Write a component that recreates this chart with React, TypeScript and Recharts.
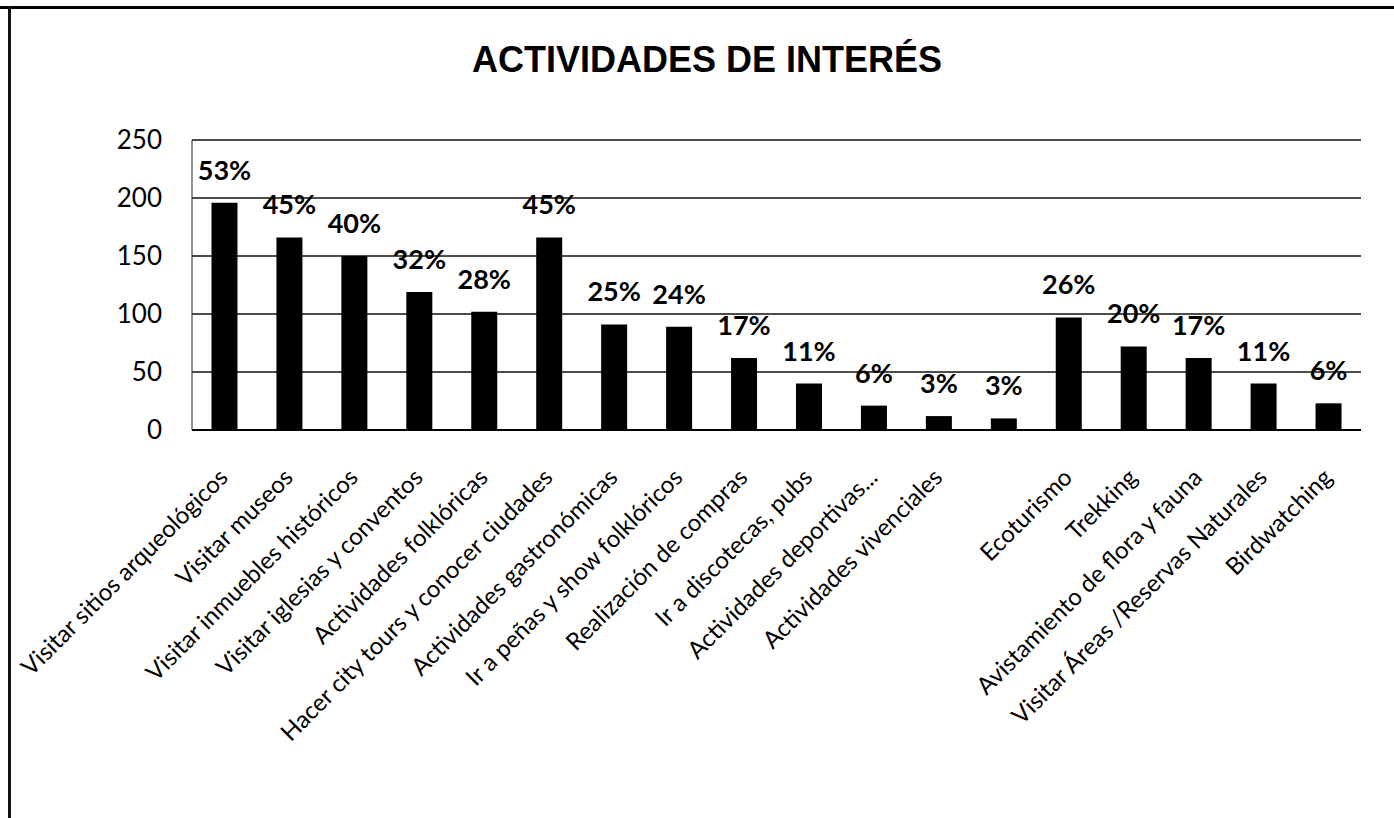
import { BarChart, Bar, XAxis, YAxis, CartesianGrid, LabelList } from 'recharts'

const CATEGORIES = [
  'Visitar sitios arqueológicos',
  'Visitar museos',
  'Visitar inmuebles históricos',
  'Visitar iglesias y conventos',
  'Actividades folklóricas',
  'Hacer city tours y conocer ciudades',
  'Actividades gastronómicas',
  'Ir a peñas y show folklóricos',
  'Realización de compras',
  'Ir a discotecas, pubs',
  'Actividades deportivas...',
  'Actividades vivenciales',
  '',
  'Ecoturismo',
  'Trekking',
  'Avistamiento de flora y fauna',
  'Visitar Áreas /Reservas Naturales',
  'Birdwatching',
]

const COUNTS = [196, 166, 150, 119, 102, 166, 91, 89, 62, 40, 21, 12, 10, 97, 72, 62, 40, 23]

const SHARES = [
  '53%', '45%', '40%', '32%', '28%', '45%', '25%', '24%', '17%',
  '11%', '6%', '3%', '3%', '26%', '20%', '17%', '11%', '6%',
]

const Y_TICKS = [0, 50, 100, 150, 200, 250]

const data = CATEGORIES.map((name, i) => ({
  key: `c${i}`,
  name,
  count: COUNTS[i],
  share: SHARES[i],
}))

const FONT = 'Lato, "Open Sans", sans-serif'

function CategoryTick(props: any) {
  const { x, y, payload } = props
  const label = CATEGORIES[payload.index] ?? ''
  return (
    <g transform={`translate(${x + 5},${y + 49})`}>
      <text
        transform="rotate(-45)"
        textAnchor="end"
        fill="#000"
        fontSize={24}
        fontFamily={FONT}
      >
        {label}
      </text>
    </g>
  )
}

function ShareLabel(props: any) {
  const { x, y, width, value } = props
  return (
    <text
      x={x + width / 2}
      y={y - 23}
      textAnchor="middle"
      fill="#000"
      fontSize={27}
      fontWeight="bold"
      fontFamily={FONT}
    >
      {value}
    </text>
  )
}

export default function App() {
  return (
    <div
      style={{
        position: 'fixed',
        top: 0,
        left: 0,
        width: 1394,
        height: 818,
        background: '#fff',
        overflow: 'hidden',
      }}
    >
      <div style={{ position: 'absolute', left: 0, top: 6, width: 1394, height: 3, background: '#000' }} />
      <div style={{ position: 'absolute', left: 8, top: 6, width: 3, height: 812, background: '#111' }} />
      <div
        style={{
          position: 'absolute',
          left: 0,
          top: 38,
          width: 1414,
          textAlign: 'center',
          fontFamily: '"Liberation Sans", Arial, sans-serif',
          fontWeight: 'bold',
          fontSize: 36,
          lineHeight: '44px',
          color: '#000',
        }}
      >
        ACTIVIDADES DE INTERÉS
      </div>
      <BarChart
        width={1394}
        height={818}
        data={data}
        margin={{ top: 140, right: 33, bottom: 0, left: 0 }}
        barCategoryGap="30%"
        style={{ position: 'absolute', left: 0, top: 0 }}
      >
        <CartesianGrid vertical={false} stroke="#111" strokeWidth={1.5} />
        <XAxis
          dataKey="key"
          height={388}
          interval={0}
          tickLine={false}
          tickSize={0}
          tickMargin={0}
          axisLine={{ stroke: '#000', strokeWidth: 2 }}
          tick={<CategoryTick />}
        />
        <YAxis
          width={192}
          domain={[0, 250]}
          ticks={Y_TICKS}
          tickLine={false}
          tickSize={0}
          tickMargin={30}
          axisLine={{ stroke: '#222', strokeWidth: 1 }}
          tick={{ fill: '#000', fontSize: 26, fontFamily: FONT }}
        />
        <Bar dataKey="count" fill="#000" isAnimationActive={false}>
          <LabelList dataKey="share" content={<ShareLabel />} />
        </Bar>
      </BarChart>
    </div>
  )
}
